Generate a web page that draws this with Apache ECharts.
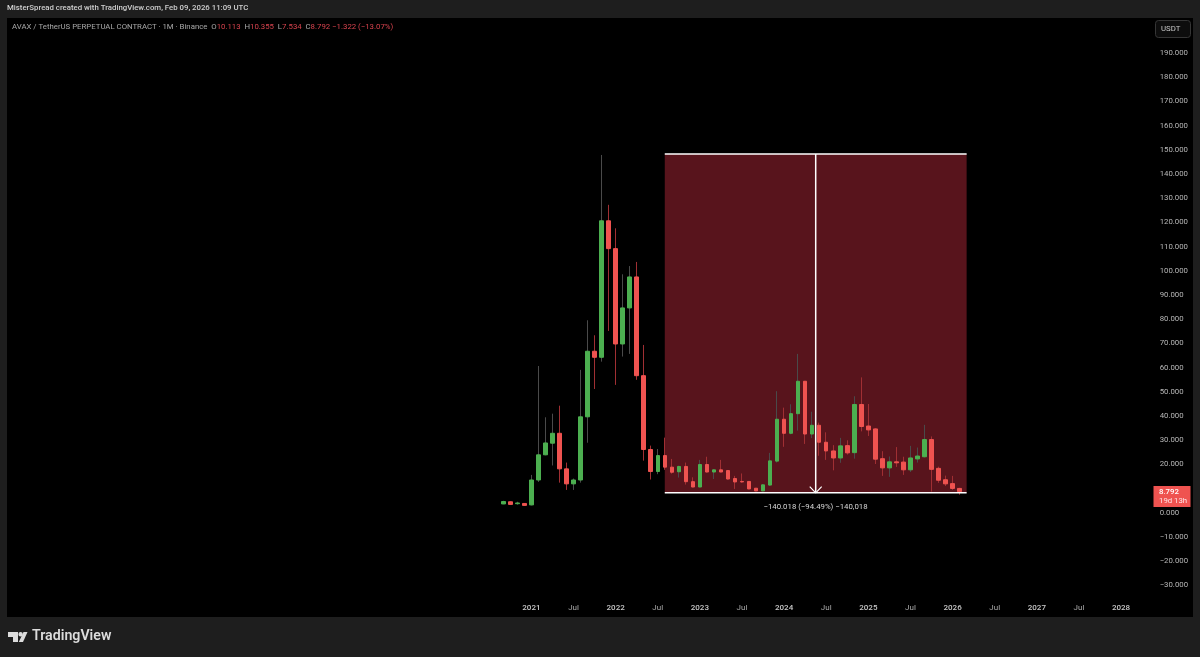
<!DOCTYPE html>
<html><head><meta charset="utf-8">
<style>html,body{margin:0;padding:0;background:#1e1e1e}#c{width:1200px;height:657px}</style>
<script src="https://cdn.jsdelivr.net/npm/echarts@6/dist/echarts.min.js"></script>
</head><body><div id="c"></div>
<script>
// Monthly candles, Sep 2020 .. Feb 2026
const opens  = [3.7,4.6,3.8,3.9, 3.3,13.6,24,28.8,32.9,18.2,12,13.6,39.7,66.8,64.3,120.7, 109.2,69.8,84.7,97.5,56.7,26.2,17.1,23.7,18.9,17,19.2,12.9, 10.7,20,16.9,17.8,17.5,14.2,13,13,10.2,9.1,11.5,21.4, 38.7,32.9,41,54.4,32.6,36.2,29.2,25.6,22.7,27.8,24.9,44.8, 35.9,34.7,22.4,18.6,21.1,21,17.8,22.3,23.2,30.3,18.4,13.7, 12.1,10.113];
const closes = [4.7,3.5,4.1,3.1, 13.6,24,28.9,32.9,18.2,12,13.6,39.7,66.8,64.3,120.7,109.2, 69.8,84.7,97.5,56.7,26.2,17.1,23.7,18.9,16.8,19.2,12.9,10.7, 20,16.9,17.8,16.9,14,12.8,12.8,9.9,9.1,11.6,21.5,38.7, 32.9,41,54.4,32.6,36.2,29.2,25.6,22.7,27.7,24.8,44.8,35.7, 34.3,22.2,18.6,21.1,20.7,17.8,22.7,23.5,30.3,18,13.5,12, 10.113,8.792];
const lows   = [3.6,3.4,3.4,3.0, 3.1,12.8,23.8,19.6,12.5,9.5,9.5,12.5,29,51.2,62.5,75.2, 52.9,64.6,65.7,55,21.6,13.8,16,17.8,16.2,14.6,11.7,10.6, 10.6,16.7,14,16.8,13.8,9.9,12.5,9.8,9,8.9,11.2,20.8, 27.3,32.5,34,28.5,30.9,23.6,21.9,17.6,20.7,24.1,22.4,33.7, 31.8,20.2,15.3,14.9,19,15.7,16.9,20.8,22.9,8.8,12.4,11.1, 9.5,7.534];
const highs  = [5.0,4.7,4.6,4.0, 15.7,60.7,39.5,41,44.3,20.8,14.2,59.1,79.6,73.4,147.9,127.3, 117.6,98.6,102,103.7,69.4,27.8,26.4,31.1,22.3,19.5,20.8,14.7, 21.9,23.2,18,21.9,17.6,15.3,16.3,13.1,10.3,11.8,24.8,50.3, 43.5,44.9,65.7,54.5,41.8,37.3,33.3,28,31,30,48.2,56, 45,35,25.5,23.3,27.2,23.2,27.7,27,36.4,31.6,19.1,15.4, 15.3,10.355];
const priceTicks = [190,180,170,160,150,140,130,120,110,100,90,80,70,60,50,40,30,20,10,0,-10,-20,-30];
const monthNames = ['Jan','Feb','Mar','Apr','May','Jun','Jul','Aug','Sep','Oct','Nov','Dec'];
const firstYear = 2014, firstMonth = 10, bandCount = 162, firstCandleBand = 70;
const rangeTop = 148.3, rangeBottom = 8.282, rangeStartBand = 93, rangeEndBand = 136;

const categories = [];
for (let i = 0; i < bandCount; i++) {
  const m = firstMonth + i;
  categories.push((firstYear + Math.floor(m / 12)) + '-' + monthNames[m % 12]);
}
const pad = new Array(firstCandleBand).fill('-');
const wickData = pad.concat(opens.map((o, i) => [o, closes[i], lows[i], highs[i]]));
const bodyData = pad.concat(opens.map((o, i) => [o, closes[i], Math.min(o, closes[i]), Math.max(o, closes[i])]));
const midBand = (rangeStartBand + rangeEndBand) / 2;

const chart = echarts.init(document.getElementById('c'), null, {renderer: 'canvas'});
const FONT = 'Roboto, sans-serif';
const FS = '7.8px ';
const RED = '#ef5350', GREEN = '#4caf50', WICK_UP = '#4a4a4a', WICK_DOWN = '#a02f33';
const lineSeries = (name, data, width, z, extra) => Object.assign({
  name, type: 'line', xAxisIndex: 1, yAxisIndex: 0, data, showSymbol: false, symbol: 'none',
  lineStyle: {color: '#ffffff', width}, z, silent: true, animation: false
}, extra || {});

chart.setOption({
  animation: false,
  backgroundColor: '#1e1e1e',
  grid: {left: 8.4, right: 54.36, top: 18, bottom: 60},
  xAxis: [{
    type: 'category', data: categories, boundaryGap: true,
    axisLine: {show: false}, axisTick: {show: false}, splitLine: {show: false},
    axisLabel: {
      margin: 7, hideOverlap: false,
      interval: (i, v) => { const p = v.split('-'); return +p[0] >= 2021 && (p[1] === 'Jan' || p[1] === 'Jul'); },
      formatter: v => { const p = v.split('-'); return p[1] === 'Jan' ? '{y|' + p[0] + '}' : '{m|Jul}'; },
      rich: {
        y: {color: '#c8c8c8', fontFamily: FONT, fontSize: 8, fontWeight: 500},
        m: {color: '#aaaaaa', fontFamily: FONT, fontSize: 8}
      }
    }
  }, {
    type: 'value', show: false, min: -0.5, max: bandCount - 0.5, splitLine: {show: false}
  }],
  yAxis: {
    type: 'value', position: 'right', min: -34.75, max: 204.5, scale: true,
    axisLine: {show: false}, axisTick: {show: false}, splitLine: {show: false},
    axisLabel: {
      customValues: priceTicks, margin: 14, align: 'left', color: '#b8b8b8',
      fontFamily: FONT, fontSize: 7.8,
      formatter: v => (v < 0 ? '\u2212' + (-v).toFixed(3) : v.toFixed(3))
    }
  },
  series: [
    lineSeries('Range top', [[rangeStartBand, rangeTop], [rangeEndBand, rangeTop]], 1.5, 6, {
      markArea: {
        silent: true, z: 1,
        itemStyle: {color: '#58141c', opacity: 1},
        data: [[{xAxis: rangeStartBand, yAxis: rangeTop}, {xAxis: rangeEndBand, yAxis: rangeBottom}]]
      }
    }),
    {name: 'Wicks', type: 'candlestick', data: wickData, barWidth: 1, z: 3, silent: true,
     itemStyle: {color: WICK_UP, color0: WICK_DOWN, borderColor: WICK_UP, borderColor0: WICK_DOWN, borderWidth: 1}},
    {name: 'AVAXUSDT', type: 'candlestick', data: bodyData, barWidth: 4, z: 4, silent: true,
     itemStyle: {color: GREEN, color0: RED, borderColor: GREEN, borderColor0: RED, borderWidth: 1}},
    lineSeries('Range bottom', [[rangeStartBand, rangeBottom], [rangeEndBand, rangeBottom]], 1.5, 6),
    lineSeries('Range arrow', [[midBand, rangeTop], [midBand, rangeBottom]], 1.5, 6),
    lineSeries('Arrow head', [[midBand - 0.85, rangeBottom + 2.6], [midBand, rangeBottom], [midBand + 0.85, rangeBottom + 2.6]], 1.2, 6)
  ],
  graphic: [
    {type: 'rect', z: -10, silent: true, shape: {x: 7, y: 18, width: 1186, height: 599}, style: {fill: '#000000'}},
    {type: 'text', x: 7, y: 4.5, z: 20, silent: true, style: {
      text: 'MisterSpread created with TradingView.com, Feb 09, 2026 11:09 UTC',
      fill: '#cfcfcf', font: '500 ' + FS + FONT}},
    {type: 'text', x: 12, y: 23, z: 20, silent: true, style: {
      text: '{g|AVAX / TetherUS PERPETUAL CONTRACT · 1M · Binance}{s|  }{g|O}{r|10.113}{s|  }{g|H}{r|10.355}{s|  }{g|L}{r|7.534}{s|  }{g|C}{r|8.792}{s| }{r|\u22121.322 (\u221213.07%)}',
      rich: {
        g: {fill: '#a8a8a8', font: FS + FONT},
        r: {fill: '#d8434e', font: FS + FONT},
        s: {font: FS + FONT}
      }}},
    {type: 'rect', z: 20, silent: true, shape: {x: 1155.5, y: 20.5, width: 35, height: 17, r: 3},
     style: {fill: '#0d0d0d', stroke: '#363636', lineWidth: 1}},
    {type: 'text', x: 1161, y: 25, z: 21, silent: true, style: {text: 'USDT', fill: '#c8c8c8', font: FS + FONT}},
    {type: 'rect', z: 20, silent: true, shape: {x: 1153.5, y: 486, width: 37, height: 21}, style: {fill: RED}},
    {type: 'text', x: 1159, y: 488, z: 21, silent: true, style: {text: '8.792', fill: '#ffffff', font: '500 ' + FS + FONT}},
    {type: 'text', x: 1159, y: 497.5, z: 21, silent: true, style: {text: '19d 13h', fill: '#ffe5e7', font: FS + FONT}},
    {type: 'text', x: 815.5, y: 503, z: 21, silent: true, style: {
      text: '\u2212140.018 (\u221294.49%) \u2212140,018', fill: '#d8d8d8', font: FS + FONT, align: 'center'}},
    {type: 'polygon', z: 20, silent: true, shape: {points: [[8,632],[18,632],[18,642],[13,642],[13,637],[8,637]]}, style: {fill: '#dcdcdc'}},
    {type: 'polygon', z: 20, silent: true, shape: {points: [[23.5,632],[27.5,632],[23,642],[18.8,642]]}, style: {fill: '#dcdcdc'}},
    {type: 'circle', z: 20, silent: true, shape: {cx: 20.6, cy: 634.3, r: 2.2}, style: {fill: '#dcdcdc'}},
    {type: 'text', x: 32, y: 629.5, z: 20, silent: true, style: {text: 'TradingView', fill: '#dcdcdc', font: '600 14.2px ' + FONT}}
  ]
});
</script></body></html>
